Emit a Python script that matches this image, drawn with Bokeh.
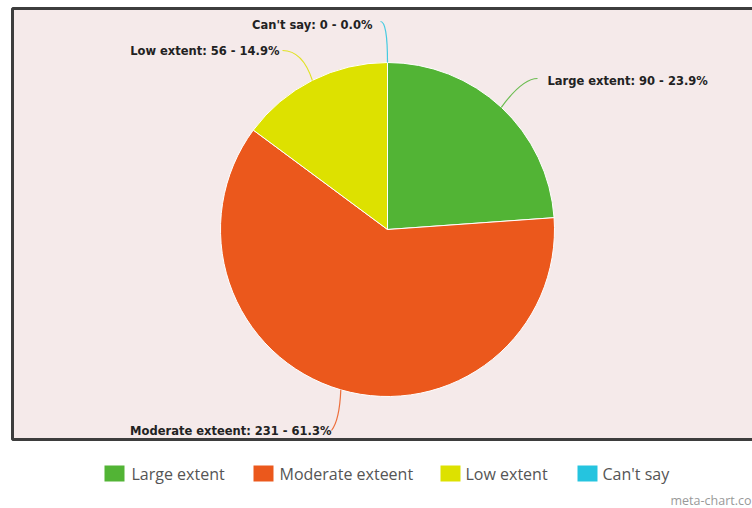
import math
from bokeh.plotting import figure
from bokeh.models import Range1d, ColumnDataSource
from bokeh.core.properties import value
from bokeh.embed import file_html
from bokeh.resources import INLINE

# ---- data ----
categories = ["Large extent", "Moderate exteent", "Low extent", "Can't say"]
counts = [90, 231, 56, 0]
colors = ["#52b435", "#eb581c", "#dde100", "#25c4df"]

# ---- layout helpers (screenshot pixel -> data coords, scale 1:1) ----
W, H = 752, 508
def dx(px):
    return px
def dy(py):
    return H - py

p = figure(width=W, height=H, output_backend="svg", toolbar_location=None,
           x_range=Range1d(0, W), y_range=Range1d(0, H), min_border=0)
p.axis.visible = False
p.grid.visible = False
p.outline_line_color = None
p.background_fill_color = "white"
p.border_fill_color = "white"

# chart box
p.quad(left=[dx(12)], right=[dx(790)], top=[dy(8)], bottom=[dy(439)],
       fill_color="#f5eaea", line_color="#3d3d3d", line_width=3)

# ---- pie ----
CX, CY, R = dx(387), dy(229), 167
total = float(sum(counts))
starts, ends, mids = [], [], []
cum = 0.0
for c in counts:
    a0 = math.pi / 2 - 2 * math.pi * cum / total
    cum += c
    a1 = math.pi / 2 - 2 * math.pi * cum / total
    starts.append(a0)
    ends.append(a1)
    mids.append((a0 + a1) / 2)

idx = [i for i, c in enumerate(counts) if c > 0]
src = ColumnDataSource(dict(
    start=[starts[i] for i in idx], end=[ends[i] for i in idx],
    color=[colors[i] for i in idx]))
p.wedge(x=CX, y=CY, radius=R, start_angle="start", end_angle="end",
        direction="clock", fill_color="color", line_color="white",
        line_width=1, source=src)

# ---- data labels with connectors ----
labels = ["%s: %d - %.1f%%" % (categories[i], counts[i], 100 * counts[i] / total)
          for i in range(len(counts))]
conn_ctrl = [(522, 78), (339, 420), (302, 50), (387, 21)]
conn_end = [(537, 78), (331, 430), (282, 50), (380, 21)]
text_pos = [(547, 80), (331, 430), (279, 50), (372, 24)]
text_align = ["left", "right", "right", "right"]

for i in range(len(counts)):
    sx = CX + R * math.cos(mids[i])
    sy = CY + R * math.sin(mids[i])
    p.quadratic(x0=[sx], y0=[sy], x1=[dx(conn_end[i][0])], y1=[dy(conn_end[i][1])],
                cx=[dx(conn_ctrl[i][0])], cy=[dy(conn_ctrl[i][1])],
                line_color=colors[i], line_width=1.2, line_alpha=0.85)
    p.text(x=[dx(text_pos[i][0])], y=[dy(text_pos[i][1])], text=[labels[i]],
           text_align=text_align[i], text_baseline="middle",
           text_font=value("DejaVu Sans"), text_font_style="bold",
           text_font_size="11.5px", text_color="#222222")

# ---- legend ----
leg_sq_x = [104, 253, 440, 577]
leg_tx_x = [131, 279, 465, 602]
leg_y = 473
p.rect(x=[dx(x + 10) for x in leg_sq_x], y=[dy(leg_y)] * 4, width=20, height=16,
       fill_color=colors, line_color=None)
p.text(x=[dx(x) for x in leg_tx_x], y=[dy(leg_y)] * 4, text=categories,
       text_align="left", text_baseline="middle",
       text_font=value("Open Sans"), text_font_size="16px", text_color="#555555")

# watermark
p.text(x=[dx(751)], y=[dy(500)], text=["meta-chart.co"], text_align="right",
       text_baseline="middle", text_font=value("Open Sans"),
       text_font_size="12.5px", text_color="#999999")

open("out.html", "w").write(file_html(p, INLINE))
